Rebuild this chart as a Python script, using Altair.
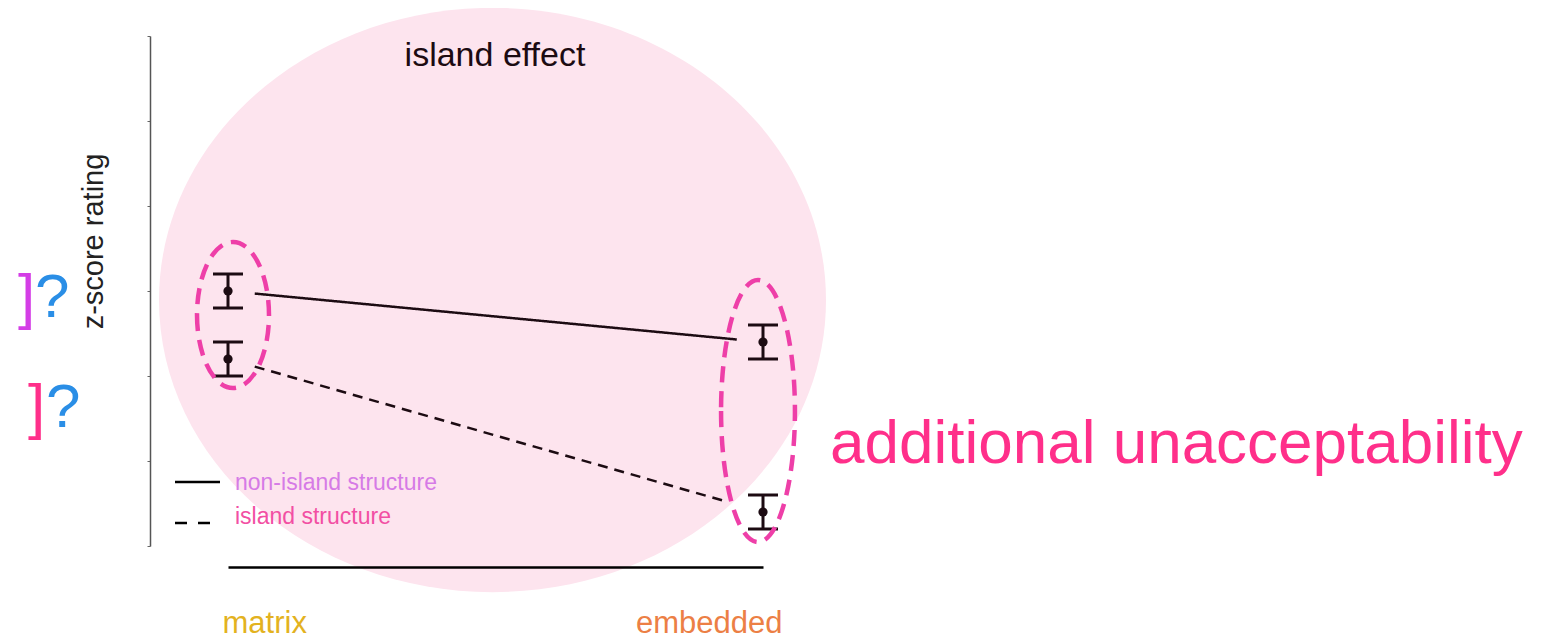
import altair as alt
import pandas as pd

# ---------------- data ----------------
conditions = ["matrix", "embedded"]
structures = ["non-island structure", "island structure"]
mean_nonisland = [0.0, -0.3]
mean_island = [-0.4, -1.3]
se_nonisland = [0.1, 0.1]
se_island = [0.1, 0.1]
y_ticks = [-1.5, -1.0, -0.5, 0.0, 0.5, 1.0, 1.5]

rows = []
for s, means, ses in [(structures[0], mean_nonisland, se_nonisland),
                      (structures[1], mean_island, se_island)]:
    for i, c in enumerate(conditions):
        rows.append({"structure": s, "condition": c, "cx": i,
                     "mean": means[i], "lo": means[i] - ses[i], "hi": means[i] + ses[i]})
df = pd.DataFrame(rows)

# connecting lines (gap fractions are styling: the line stops short of the bars)
lines = pd.DataFrame({
    "structure": structures,
    "m0": [mean_nonisland[0], mean_island[0]],
    "m1": [mean_nonisland[1], mean_island[1]],
    "gapL": [0.05, 0.05],
    "gapR": [0.049, 0.066],
})

# ---------------- styling ----------------
W, H = 535, 510
FONT = "Liberation Sans"
INK = "#1c0b12"
PINK_BG = "#fde4ee"
MAGENTA = "#ee3fa8"

xscale = alt.Scale(domain=[0, 1], nice=False, zero=False)
yscale = alt.Scale(domain=[-1.5, 1.5], nice=False, zero=False)

xaxis = alt.Axis(
    values=[0, 1], title=None, grid=False, ticks=False, tickSize=0,
    domainColor="black", domainWidth=2.5, offset=21, zindex=1,
    labelExpr="datum.value == 0 ? 'matrix' : 'embedded'",
    labelFont=FONT, labelFontSize=31, labelBaseline="alphabetic", labelPadding=65,
    labelColor={"condition": {"test": "datum.value == 0", "value": "#e3b21f"}, "value": "#ec7f45"},
    labelAlign={"condition": {"test": "datum.value == 0", "value": "left"}, "value": "right"},
    labelOffset={"condition": {"test": "datum.value == 0", "value": -6}, "value": 19},
    labelFlush=False, labelOverlap=False,
)
yaxis = alt.Axis(
    values=y_ticks, labels=False, grid=False, tickSize=3, tickColor="#666",
    domainColor="#555", domainWidth=1.5, offset=78, zindex=1,
    title="z-score rating", titleFont=FONT, titleFontSize=29, titleFontWeight="normal",
    titleColor="#222", titleX=-48, titleY=205, titleAlign="center",
    titleBaseline="alphabetic", titleAngle=270,
)

def ellipse_path(rx, ry):
    return f"M {-rx} 0 A {rx} {ry} 0 1 0 {rx} 0 A {rx} {ry} 0 1 0 {-rx} 0 Z"

anchor = alt.Chart(pd.DataFrame({"a": [0]}))

big_ellipse = anchor.mark_point(
    shape=ellipse_path(1, 0.876), filled=True, color=PINK_BG, opacity=1, strokeWidth=0
).encode(x=alt.value(264.5), y=alt.value(264), size=alt.value(667 * 667))

left_ell = anchor.mark_point(
    shape=ellipse_path(0.493, 1), filled=False, color=MAGENTA, strokeWidth=4.5,
    strokeDash=[16, 9], opacity=1
).encode(x=alt.value(5), y=alt.value(279), size=alt.value(146 * 146))

right_ell = anchor.mark_point(
    shape=ellipse_path(0.282, 1), filled=False, color=MAGENTA, strokeWidth=4.5,
    strokeDash=[16, 9], opacity=1
).encode(x=alt.value(530), y=alt.value(375), size=alt.value(262 * 262))

base = alt.Chart(df)

err = base.mark_rule(color=INK, strokeWidth=3).encode(
    x=alt.X("cx:Q", scale=xscale, axis=xaxis),
    y=alt.Y("lo:Q", scale=yscale, axis=yaxis),
    y2="hi:Q",
)
cap_lo = base.mark_rule(color=INK, strokeWidth=3, xOffset=-15, x2Offset=15).encode(
    x=alt.X("cx:Q", scale=xscale), x2="cx:Q",
    y=alt.Y("lo:Q", scale=yscale),
)
cap_hi = base.mark_rule(color=INK, strokeWidth=3, xOffset=-15, x2Offset=15).encode(
    x=alt.X("cx:Q", scale=xscale), x2="cx:Q",
    y=alt.Y("hi:Q", scale=yscale),
)
dots = base.mark_point(filled=True, color=INK, opacity=1, size=85).encode(
    x=alt.X("cx:Q", scale=xscale),
    y=alt.Y("mean:Q", scale=yscale),
)

conn = alt.Chart(lines).transform_calculate(
    xa="datum.gapL",
    xb="1 - datum.gapR",
    ya="datum.m0 + datum.gapL * (datum.m1 - datum.m0)",
    yb="datum.m0 + (1 - datum.gapR) * (datum.m1 - datum.m0)",
).mark_rule(color=INK, strokeWidth=2.5).encode(
    x=alt.X("xa:Q", scale=xscale), x2="xb:Q",
    y=alt.Y("ya:Q", scale=yscale), y2="yb:Q",
    strokeDash=alt.StrokeDash("structure:N", scale=alt.Scale(domain=structures, range=[[1, 0], [10, 7]]), legend=None),
)

# legend (manual)
leg_solid = anchor.mark_rule(color="black", strokeWidth=2.5).encode(
    x=alt.value(-53), x2=alt.value(-8), y=alt.value(446))
leg_dash = anchor.mark_rule(color="black", strokeWidth=2.5, strokeDash=[12, 11]).encode(
    x=alt.value(-53), x2=alt.value(-8), y=alt.value(487))
leg_t1 = anchor.mark_text(text=structures[0], font=FONT, fontSize=23, color="#d67be6",
                          align="left", baseline="alphabetic").encode(x=alt.value(7), y=alt.value(454))
leg_t2 = anchor.mark_text(text=structures[1], font=FONT, fontSize=23, color="#f24fa3",
                          align="left", baseline="alphabetic").encode(x=alt.value(7), y=alt.value(488))

title_t = anchor.mark_text(text="island effect", font=FONT, fontSize=34, color=INK,
                           align="center", baseline="alphabetic").encode(x=alt.value(267), y=alt.value(30))
add_t = anchor.mark_text(text="additional unacceptability", font=FONT, fontSize=62, color="#ff2f8a",
                         align="left", baseline="alphabetic").encode(x=alt.value(602), y=alt.value(427))

q_kw = dict(font=FONT, fontSize=62, align="left", baseline="alphabetic")
br1 = anchor.mark_text(text="]", color="#d43de6", **q_kw).encode(x=alt.value(-210), y=alt.value(281))
qm1 = anchor.mark_text(text="?", color="#2a8ee6", **q_kw).encode(x=alt.value(-193), y=alt.value(281))
br2 = anchor.mark_text(text="]", color="#ff2f8a", **q_kw).encode(x=alt.value(-200), y=alt.value(391))
qm2 = anchor.mark_text(text="?", color="#2a8ee6", **q_kw).encode(x=alt.value(-182), y=alt.value(391))

chart = alt.layer(
    big_ellipse, err, conn, cap_lo, cap_hi, dots, left_ell, right_ell,
    leg_solid, leg_dash, leg_t1, leg_t2, title_t, add_t, br1, qm1, br2, qm2,
).properties(
    width=W, height=H,
    autosize=alt.AutoSizeParams(type="none"),
    padding={"left": 220, "top": 28, "right": 773, "bottom": 93},
    background="white",
).configure_view(stroke=None)

chart.save("out.html", embed_options={"renderer": "svg", "actions": False})
